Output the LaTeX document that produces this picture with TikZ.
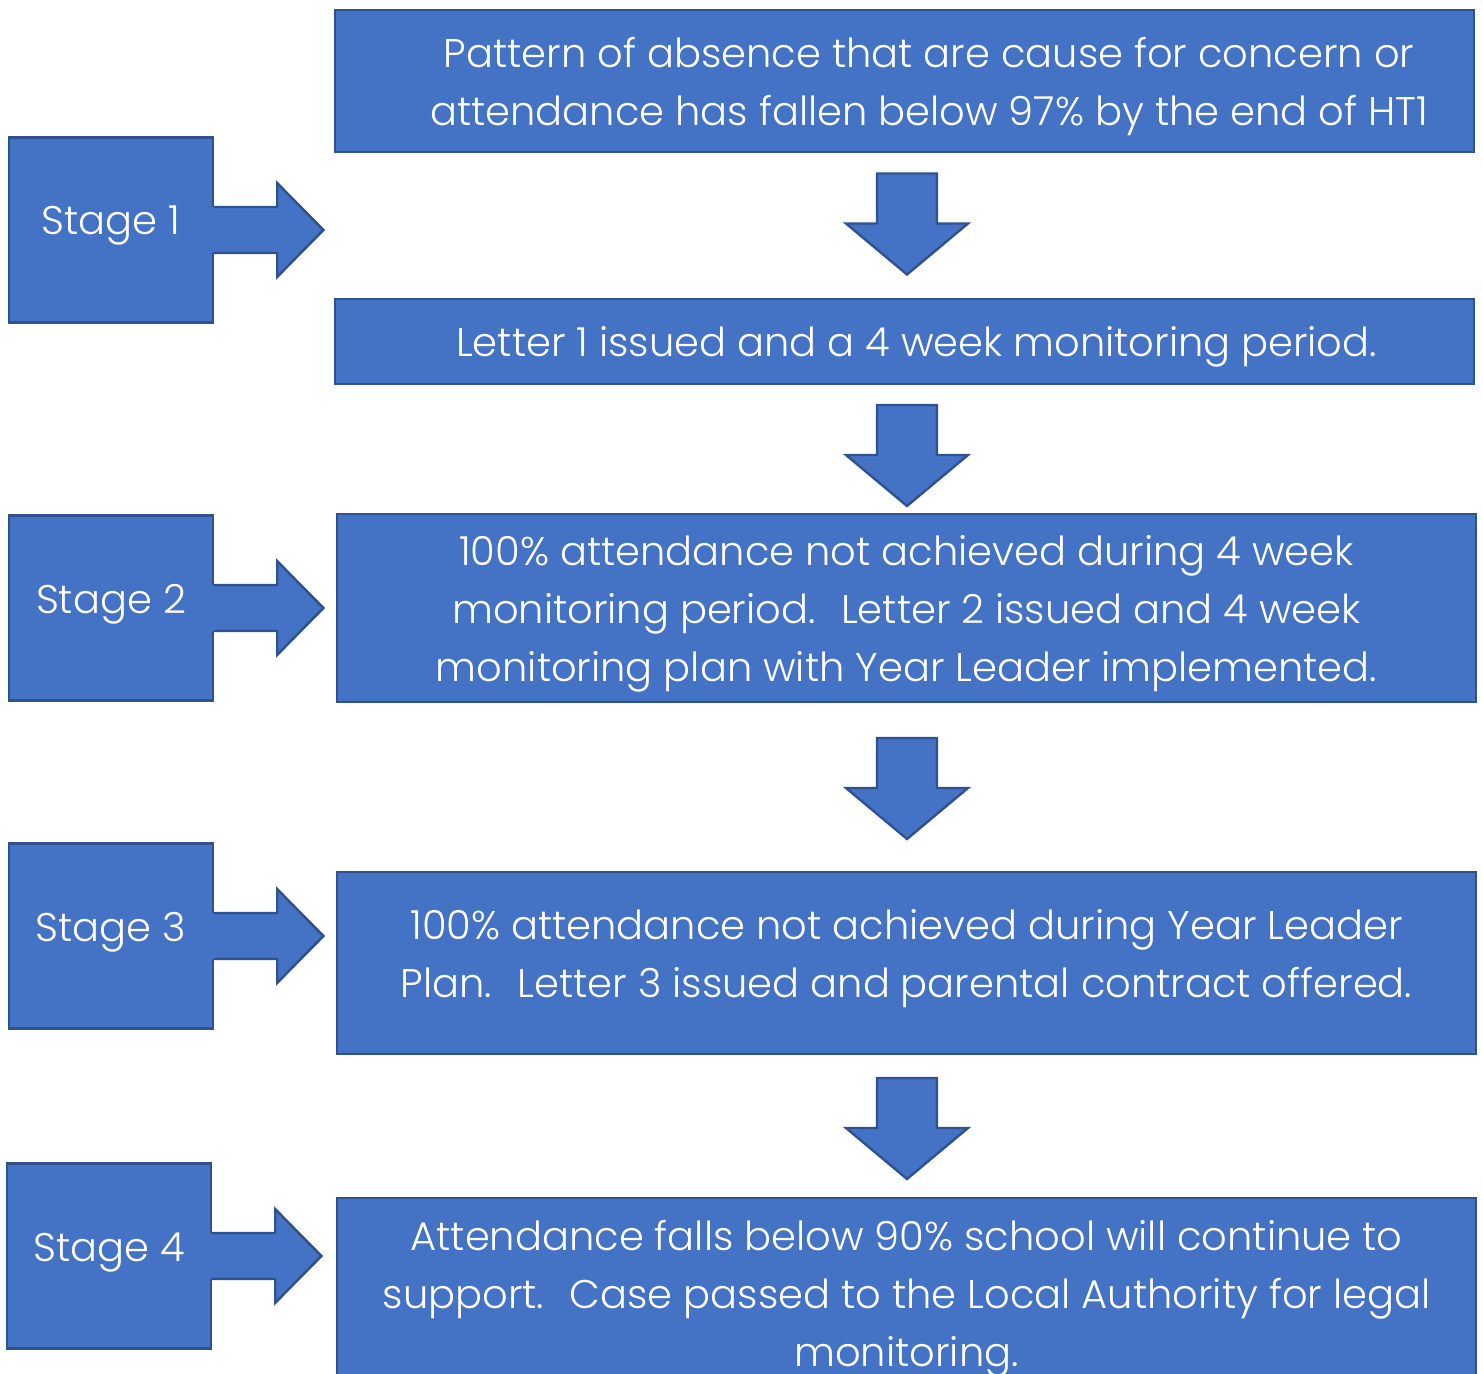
\documentclass[tikz,border=0pt]{standalone}
\usepackage{fontspec}
\setmainfont{Poppins}[UprightFont=* Light]
\usetikzlibrary{positioning,calc}

\definecolor{boxfill}{HTML}{4472C4}
\definecolor{boxline}{HTML}{2F528F}

\tikzset{
  blk/.style={draw=boxline, fill=boxfill, line width=1.2pt},
  stagebox/.style={blk, text=white, inner sep=0pt, minimum width=102pt, minimum height=92.5pt,
    text height=14pt, text depth=9pt},
  stepbox/.style={blk, text=white, inner sep=0pt, minimum width=569.5pt, align=center,
    text depth=-3pt},
}

% block arrow out of a stage box
\newcommand{\rightblk}[1]{
  \fill[boxfill] ($(#1.east)+(-2,-23)$) -- ++(66,0) -- ++(0,-24) -- ++(47,47)
    -- ++(-47,47) -- ++(0,-24) -- ++(-66,0) -- cycle;
  \draw[boxline,line width=1.2pt,line join=miter] ($(#1.east)+(0,-23)$) -- ++(63,0) -- ++(0,-24)
    -- ++(46,47) -- ++(-46,47) -- ++(0,-24) -- ++(-63,0);
}
% block arrow between two step boxes, #3 = nudge down
\newcommand{\downblk}[3]{
  \path ($(#1.south)!0.5!(#2.north)$) coordinate (mid);
  \draw[blk] (mid -| 907,0) ++(-30,#3-50) -- ++(60,0) -- ++(0,50) -- ++(31,0)
    -- ++(-61,51) -- ++(-61,-51) -- ++(31,0) -- cycle;
}

\begin{document}
\begin{tikzpicture}[x=0.5pt, y=-0.5pt, font=\fontsize{20}{29}\selectfont]
  \useasboundingbox (0,0) rectangle (1483,1374);
  \clip (0,0) rectangle (1483,1374);

  % stages
  \node[stagebox] (s1) at (111,230) {Stage 1};
  \node[stagebox] (s2) at (111,608) {Stage 2};
  \node[stagebox] (s3) at (111,936) {Stage 3};
  \node[stagebox] (s4) at (109,1256) {Stage 4};

  % steps
  \node[stepbox, minimum height=71pt] (b1) at (904.5,81)
    {\hspace*{24.5pt}Pattern of absence that are cause for concern or\\
     \hspace*{24.5pt}attendance has fallen below 97\% by the end of HT1};
  \node[stepbox, minimum height=42.5pt, text depth=0pt] (b2) at (904.5,341.5)
    {\hspace*{12pt}Letter 1 issued and a 4 week monitoring period.};
  \node[stepbox, minimum height=94pt] (b3) at (906.5,608)
    {100\% attendance not achieved during 4 week\\
     monitoring period.~ Letter 2 issued and 4 week\\
     monitoring plan with Year Leader implemented.};
  \node[stepbox, minimum height=91pt, text depth=10pt] (b4) at (906.5,963)
    {100\% attendance not achieved during Year Leader\\
     Plan.~ Letter 3 issued and parental contract offered.};
  \node[stepbox, minimum height=95pt] (b5) at (906.5,1293)
    {Attendance falls below 90\% school will continue to\\
     support.~ Case passed to the Local Authority for legal\\
     monitoring.};

  \rightblk{s1}
  \rightblk{s2}
  \rightblk{s3}
  \rightblk{s4}

  \downblk{b1}{b2}{-2}
  \downblk{b2}{b3}{6}
  \downblk{b3}{b4}{1}
  \downblk{b4}{b5}{2}
\end{tikzpicture}
\end{document}
